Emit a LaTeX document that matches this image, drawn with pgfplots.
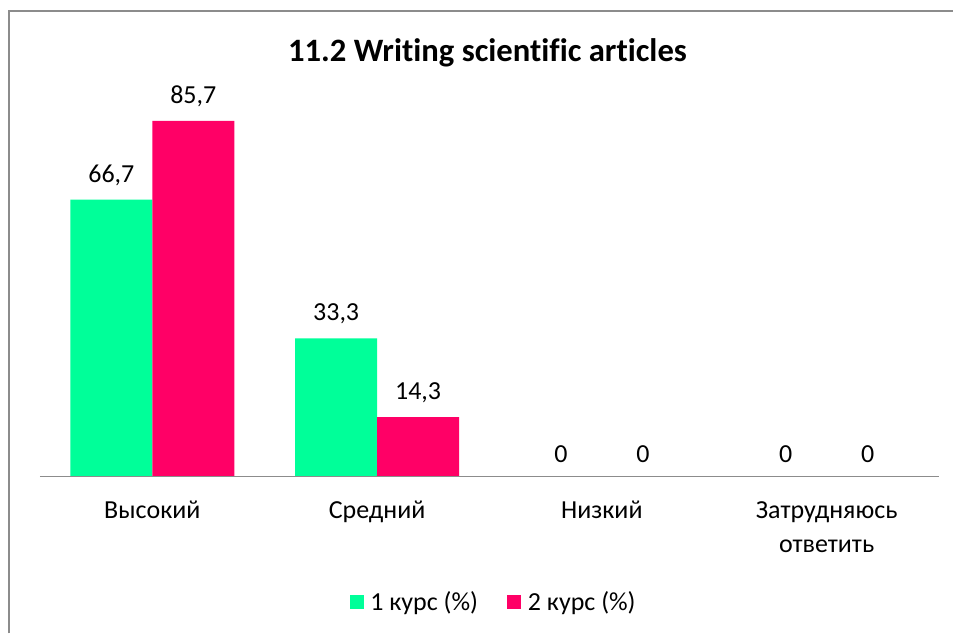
\documentclass[border=0pt]{standalone}
\usepackage{fontspec}
\setmainfont{Carlito}[Ligatures=NoCommon]
\usepackage{pgfplots}
\pgfplotsset{compat=1.18}
\definecolor{kurs1}{HTML}{00FF99}
\definecolor{kurs2}{HTML}{FF0066}
\definecolor{frame}{HTML}{8C8C8C}
\begin{document}
\begin{tikzpicture}[x=0.75pt,y=0.75pt]
  % canvas and outer frame (cropped at right and bottom)
  \path (0,0) rectangle (954,634);
  \draw[frame, line width=1.5pt] (9.5,0) -- (9.5,623) -- (954,623);
  \node[font=\fontsize{24.5}{28}\selectfont\bfseries] at (488,581) {11.2 Writing scientific articles};
  \begin{axis}[
    at={(30pt,117.75pt)}, anchor=south west,
    scale only axis,
    width=675pt, height=280.4pt,
    ybar=0pt, bar width=61.5pt,
    xmin=-0.5, xmax=3.5, ymin=0, ymax=90,
    hide y axis,
    axis x line*=bottom,
    axis on top,
    x axis line style={draw=frame, line width=1pt, -},
    xtick={0,1,2,3},
    xticklabels={Высокий, Средний, Низкий, {Затрудняюсь\\ответить}},
    x tick label style={align=center, font=\fontsize{19.5}{26}\selectfont, yshift=-15pt},
    major tick length=0pt,
    nodes near coords,
    point meta=explicit symbolic,
    every node near coord/.append style={font=\fontsize{19.5}{22}\selectfont, yshift=7pt},
    legend style={at={(0.505,-0.337)}, anchor=center, draw=none, legend columns=2,
      font=\fontsize{19.5}{22}\selectfont,
      /tikz/every odd column/.append style={column sep=3pt},
      /tikz/every even column/.append style={column sep=20pt}},
    legend image code/.code={\fill[#1] (0pt,-5pt) rectangle (10.5pt,5.5pt);},
  ]
    \addplot[fill=kurs1, draw=none] coordinates {(0,66.7) [66,7] (1,33.3) [33,3] (2,0) [0] (3,0) [0]};
    \addplot[fill=kurs2, draw=none] coordinates {(0,85.7) [85,7] (1,14.3) [14,3] (2,0) [0] (3,0) [0]};
    \legend{1 курс (\%), 2 курс (\%)}
  \end{axis}
\end{tikzpicture}
\end{document}
